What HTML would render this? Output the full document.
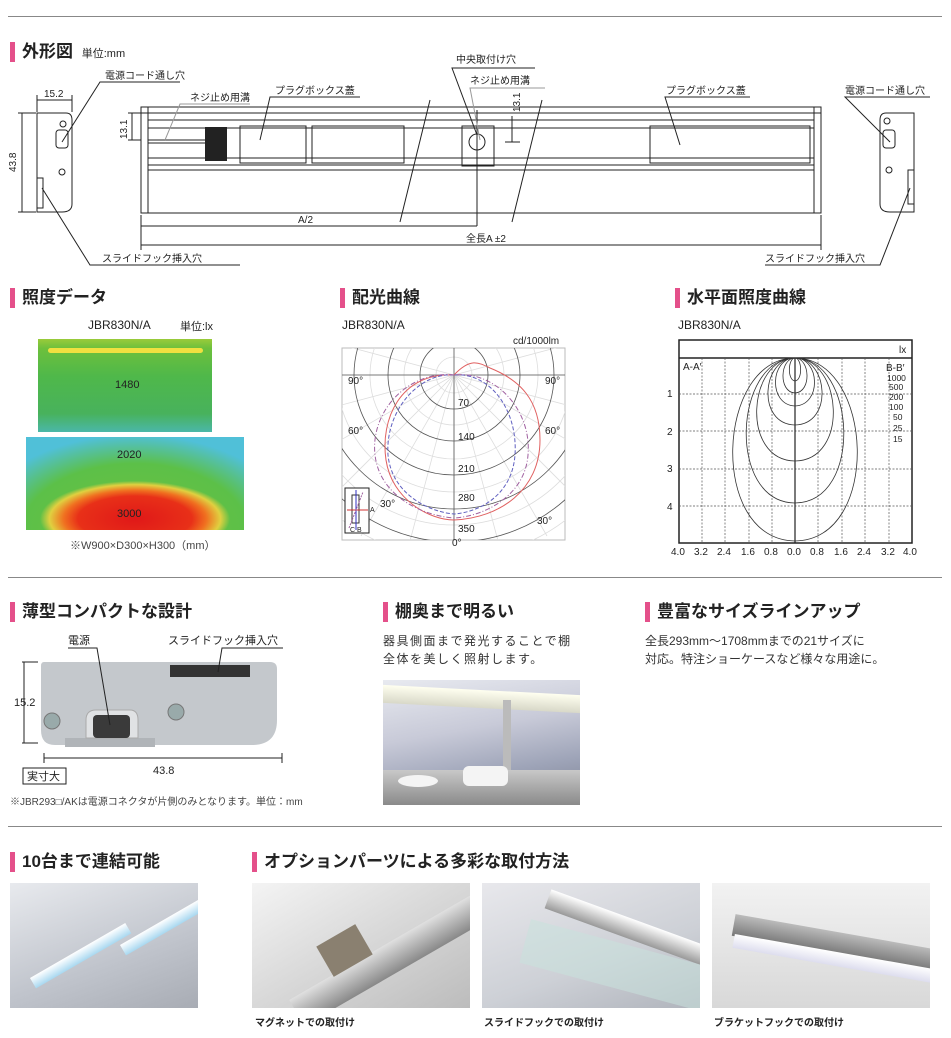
<!DOCTYPE html>
<html><head><meta charset="utf-8">
<style>
*{margin:0;padding:0;box-sizing:border-box}
body{width:951px;height:1038px;background:#fff;position:relative;overflow:hidden;font-family:"Liberation Sans","Noto Sans CJK JP",sans-serif;color:#222}
.a{position:absolute;white-space:nowrap}
.h{font-size:17px;font-weight:bold;padding-left:12px;line-height:20px}
.h:before{content:"";position:absolute;left:0;top:0;width:5px;height:20px;background:#e4508a}
.s{font-size:11px}
.hr{position:absolute;left:8px;width:934px;height:1px;background:#888}
.ph{position:absolute;overflow:hidden}
</style></head><body>
<div class="hr" style="top:16px"></div>
<div class="hr" style="top:577px"></div>
<div class="hr" style="top:826px"></div>

<!-- Section 1 -->
<div class="a h" style="left:10px;top:42px">外形図 <span style="font-size:11px;font-weight:normal;margin-left:4px">単位:mm</span></div>
<svg class="a" style="left:0;top:0" width="951" height="280" font-family="Liberation Sans,Noto Sans CJK JP,sans-serif" font-size="10" fill="#222">
<g stroke="#222" stroke-width="1" fill="none">
<path d="M37 113 H66 Q72 113 72 120 V204 Q72 212 62 212 H37 Z"/>
<rect x="56" y="130" width="12" height="18" rx="3"/>
<rect x="37" y="178" width="6" height="30"/>
<circle cx="63" cy="124" r="3"/><circle cx="62" cy="172" r="3"/>
<line x1="37" y1="100" x2="72" y2="100"/><line x1="37" y1="95" x2="37" y2="112"/><line x1="72" y1="95" x2="72" y2="112"/>
<line x1="22" y1="113" x2="22" y2="212"/><line x1="18" y1="113" x2="36" y2="113"/><line x1="18" y1="212" x2="36" y2="212"/>
<polyline points="62,142 100,82 180,82"/>
<polyline points="42,188 90,265 240,265"/>
<path d="M914 113 H886 Q880 113 880 120 V204 Q880 212 890 212 H914 Z"/>
<rect x="883" y="130" width="12" height="18" rx="3"/>
<rect x="908" y="170" width="6" height="34"/>
<circle cx="887" cy="121" r="3"/><circle cx="889" cy="170" r="3"/>
<polyline points="890,142 845,97 930,97"/>
<polyline points="910,188 880,265 765,265"/>
<rect x="141" y="107" width="680" height="106"/>
<line x1="141" y1="113" x2="821" y2="113"/>
<line x1="148" y1="107" x2="148" y2="213"/><line x1="814" y1="107" x2="814" y2="213"/>
<line x1="148" y1="120" x2="814" y2="120"/>
<line x1="148" y1="128" x2="814" y2="128"/>
<line x1="148" y1="158" x2="814" y2="158"/>
<line x1="148" y1="165" x2="814" y2="165"/>
<line x1="148" y1="170" x2="814" y2="170"/>
<line x1="148" y1="140" x2="205" y2="140"/><line x1="148" y1="143" x2="205" y2="143"/>
<rect x="240" y="126" width="66" height="37"/>
<rect x="312" y="126" width="92" height="37"/>
<rect x="462" y="126" width="32" height="40"/>
<rect x="650" y="126" width="160" height="37"/>
<circle cx="477" cy="142" r="8"/>
<line x1="477" y1="110" x2="477" y2="226"/>
<line x1="400" y1="222" x2="430" y2="100"/><line x1="512" y1="222" x2="542" y2="100"/>
<line x1="141" y1="226" x2="477" y2="226"/>
<line x1="141" y1="245" x2="821" y2="245"/>
<line x1="141" y1="215" x2="141" y2="250"/><line x1="821" y1="215" x2="821" y2="250"/>
<line x1="512" y1="116" x2="512" y2="142"/><line x1="505" y1="142" x2="520" y2="142"/>
<line x1="132" y1="113" x2="132" y2="140"/><line x1="128" y1="113" x2="141" y2="113"/><line x1="128" y1="140" x2="141" y2="140"/>
<polyline points="165,140 180,104 250,104" stroke="#999"/>
<polyline points="260,140 270,97 360,97"/>
<polyline points="477,135 452,68 535,68"/>
<polyline points="480,140 470,88 545,88" stroke="#999"/>
<polyline points="680,145 665,97 750,97"/>
</g>
<rect x="205" y="127" width="22" height="34" fill="#222"/>
<text x="44" y="97">15.2</text>
<text transform="translate(16,172) rotate(-90)">43.8</text>
<text transform="translate(127,139) rotate(-90)">13.1</text>
<text transform="translate(520,112) rotate(-90)">13.1</text>
<text x="105" y="79">電源コード通し穴</text>
<text x="190" y="101">ネジ止め用溝</text>
<text x="275" y="94">プラグボックス蓋</text>
<text x="456" y="63">中央取付け穴</text>
<text x="470" y="84">ネジ止め用溝</text>
<text x="666" y="94">プラグボックス蓋</text>
<text x="845" y="94">電源コード通し穴</text>
<text x="298" y="223">A/2</text>
<text x="466" y="242">全長A ±2</text>
<text x="102" y="262">スライドフック挿入穴</text>
<text x="765" y="262">スライドフック挿入穴</text>
</svg>

<!-- Section 2 -->
<div class="a h" style="left:10px;top:288px">照度データ</div>
<div class="a s" style="left:88px;top:318px;font-size:12px">JBR830N/A</div>
<div class="a s" style="left:180px;top:318px">単位:lx</div>
<div class="a" style="left:38px;top:339px;width:174px;height:93px;background:linear-gradient(180deg,#9acb3a 0%,#6dc03c 10%,#4fb84a 40%,#48b25c 80%,#4ab7a8 100%)"></div>
<div class="a" style="left:48px;top:348px;width:155px;height:5px;background:#f0e040;border-radius:3px"></div>
<div class="a s" style="left:115px;top:379px">1480</div>
<div class="a" style="left:26px;top:437px;width:218px;height:93px;background:radial-gradient(ellipse 95px 38px at 50% 88%,#e01818 0%,#e83018 60%,#f07020 75%,#e0d040 90%,rgba(120,200,60,0) 100%),radial-gradient(ellipse 160px 95px at 50% 100%,#70c040 0%,#5cc048 70%,#50c0d8 100%)"></div>
<div class="a s" style="left:117px;top:449px">2020</div>
<div class="a s" style="left:117px;top:508px">3000</div>
<div class="a s" style="left:70px;top:537px;color:#444">※W900×D300×H300（mm）</div>

<div class="a h" style="left:340px;top:288px">配光曲線</div>
<div class="a s" style="left:342px;top:318px;font-size:12px">JBR830N/A</div>
<div class="a s" style="left:513px;top:336px;font-size:10px">cd/1000lm</div>
<svg class="a" style="left:0;top:0" width="951" height="560" font-family="Liberation Sans,sans-serif" font-size="10" fill="#222">
<defs><clipPath id="pc"><rect x="342" y="348" width="223" height="192"/></clipPath></defs>
<rect x="342" y="348" width="223" height="192" fill="none" stroke="#bbb"/>
<g clip-path="url(#pc)" fill="none">
<g stroke="#ddd" stroke-width="0.8">
<circle cx="454" cy="375" r="18"/><circle cx="454" cy="375" r="50"/><circle cx="454" cy="375" r="84"/><circle cx="454" cy="375" r="117"/><circle cx="454" cy="375" r="150"/><circle cx="454" cy="375" r="183"/>
<path d="M454 375 L454 560 M454 375 L406 556 M454 375 L502 556 M454 375 L361 536 M454 375 L547 536 M454 375 L322 507 M454 375 L586 507 M454 375 L292 468 M454 375 L616 468 M454 375 L274 423 M454 375 L634 423 M454 375 L268 375 M454 375 L640 375 M454 375 L274 327 M454 375 L634 327"/>
</g>
<g stroke="#555" stroke-width="0.8">
<circle cx="454" cy="375" r="34"/><circle cx="454" cy="375" r="66"/><circle cx="454" cy="375" r="100"/><circle cx="454" cy="375" r="134"/><circle cx="454" cy="375" r="167"/>
<line x1="342" y1="375" x2="565" y2="375"/><line x1="454" y1="348" x2="454" y2="540"/>
</g>
<path d="M454 375 C400 372 380 420 386 460 C392 500 430 520 454 520 C500 518 540 490 540 440 C540 400 520 380 490 368 C478 362 470 358 454 375" stroke="#e06060"/>
<path d="M454 375 C420 372 385 410 388 455 C392 495 430 512 454 514 C480 512 512 495 515 455 C518 410 490 372 454 375" stroke="#6060c0" stroke-dasharray="4 2"/>
<path d="M454 375 C410 370 370 410 375 455 C380 498 425 516 454 518 C486 516 525 495 528 455 C532 410 495 370 454 375" stroke="#a060a0" stroke-dasharray="5 2 1 2"/>
</g>
<rect x="345" y="488" width="24" height="45" fill="#fff" stroke="#222"/>
<rect x="352" y="495" width="7" height="28" fill="none" stroke="#333"/>
<line x1="347" y1="510" x2="368" y2="510" stroke="#d03030"/>
<line x1="356" y1="490" x2="356" y2="530" stroke="#3030c0"/>
<line x1="349" y1="528" x2="363" y2="492" stroke="#a060a0" stroke-dasharray="2 1"/>
<text x="370" y="512" font-size="7">A</text><text x="350" y="532" font-size="7">C</text><text x="357" y="532" font-size="7">B</text>
<text x="348" y="384">90°</text><text x="545" y="384">90°</text>
<text x="348" y="434">60°</text><text x="545" y="434">60°</text>
<text x="380" y="507">30°</text><text x="537" y="524">30°</text>
<text x="458" y="406">70</text><text x="458" y="440">140</text><text x="458" y="472">210</text><text x="458" y="501">280</text><text x="458" y="532">350</text>
<text x="452" y="546">0°</text>
</svg>

<div class="a h" style="left:675px;top:288px">水平面照度曲線</div>
<div class="a s" style="left:678px;top:318px;font-size:12px">JBR830N/A</div>
<svg class="a" style="left:0;top:0" width="951" height="560" font-family="Liberation Sans,sans-serif" font-size="10" fill="#222">
<rect x="679" y="340" width="233" height="203" fill="none" stroke="#222" stroke-width="1.5"/>
<line x1="679" y1="358" x2="912" y2="358" stroke="#222" stroke-width="1.5"/>
<g stroke="#555" stroke-dasharray="2 1.5" stroke-width="0.7">
<line x1="679" y1="394" x2="912" y2="394"/><line x1="679" y1="431" x2="912" y2="431"/><line x1="679" y1="469" x2="912" y2="469"/><line x1="679" y1="506" x2="912" y2="506"/>
<line x1="702" y1="358" x2="702" y2="543"/><line x1="725" y1="358" x2="725" y2="543"/><line x1="749" y1="358" x2="749" y2="543"/><line x1="772" y1="358" x2="772" y2="543"/><line x1="818" y1="358" x2="818" y2="543"/><line x1="842" y1="358" x2="842" y2="543"/><line x1="865" y1="358" x2="865" y2="543"/><line x1="889" y1="358" x2="889" y2="543"/>
</g>
<line x1="795" y1="358" x2="795" y2="543" stroke="#222" stroke-width="1.2"/>
<g fill="none" stroke="#333" stroke-width="0.8">
<path d="M795 358 C788 358 787 380 795 381 C803 380 802 358 795 358"/>
<path d="M795 358 C780 358 778 392 795 393 C812 392 810 358 795 358"/>
<path d="M795 358 C770 358 768 405 795 406 C822 405 820 358 795 358"/>
<path d="M795 358 C762 358 756 424 795 425 C834 424 828 358 795 358"/>
<path d="M795 358 C748 358 740 460 795 461 C850 460 842 358 795 358"/>
<path d="M795 358 C734 358 726 502 795 503 C864 502 856 358 795 358"/>
<path d="M795 358 C716 358 708 540 795 541 C882 540 874 358 795 358"/>
</g>
<text x="899" y="353">lx</text>
<text x="683" y="370">A-A′</text><text x="886" y="371">B-B′</text>
<g font-size="8.5"><text x="887" y="381">1000</text><text x="889" y="390">500</text><text x="889" y="400">200</text><text x="889" y="410">100</text><text x="893" y="420">50</text><text x="893" y="431">25</text><text x="893" y="442">15</text></g>
<text x="667" y="397">1</text><text x="667" y="435">2</text><text x="667" y="472">3</text><text x="667" y="510">4</text>
<g font-size="10"><text x="671" y="555">4.0</text><text x="694" y="555">3.2</text><text x="717" y="555">2.4</text><text x="741" y="555">1.6</text><text x="764" y="555">0.8</text><text x="787" y="555">0.0</text><text x="810" y="555">0.8</text><text x="834" y="555">1.6</text><text x="857" y="555">2.4</text><text x="881" y="555">3.2</text><text x="903" y="555">4.0</text></g>
</svg>

<!-- Section 3 -->
<div class="a h" style="left:10px;top:602px">薄型コンパクトな設計</div>
<svg class="a" style="left:0;top:625px" width="330" height="190" font-family="Liberation Sans,Noto Sans CJK JP,sans-serif" font-size="11" fill="#222">
<path d="M44 37 H270 Q277 37 277 44 V95 Q277 120 252 120 H55 Q41 120 41 105 V41 Q41 37 44 37Z" fill="#c4c8cc"/>
<rect x="65" y="113" width="90" height="9" fill="#b0b4b8"/>
<path d="M86 113 V95 Q86 85 96 85 H130 Q138 85 138 95 V113Z" fill="#e0e2e4" stroke="#aaa"/>
<rect x="93" y="90" width="37" height="23" rx="4" fill="#3a3a3a"/>
<rect x="170" y="40" width="80" height="12" fill="#333"/>
<circle cx="52" cy="96" r="8" fill="#9aa" stroke="#777"/>
<circle cx="176" cy="87" r="8" fill="#9aa" stroke="#777"/>
<g stroke="#222" fill="none"><polyline points="68,23 97,23 110,100"/><polyline points="218,47 222,23 283,23"/>
<line x1="24" y1="37" x2="24" y2="118"/><line x1="22" y1="37" x2="38" y2="37"/><line x1="22" y1="118" x2="38" y2="118"/>
<line x1="44" y1="133" x2="282" y2="133"/><line x1="44" y1="128" x2="44" y2="138"/><line x1="282" y1="128" x2="282" y2="138"/></g>
<text x="68" y="19">電源</text><text x="168" y="19">スライドフック挿入穴</text>
<text x="14" y="81">15.2</text><text x="153" y="149">43.8</text>
<rect x="23" y="143" width="43" height="16" fill="none" stroke="#222"/><text x="27" y="155">実寸大</text>
<text x="10" y="180" font-size="10" fill="#444">※JBR293□/AKは電源コネクタが片側のみとなります。単位：mm</text>
</svg>

<div class="a h" style="left:383px;top:602px">棚奥まで明るい</div>
<div class="a" style="left:383px;top:632px;font-size:12px;line-height:18px;letter-spacing:1.5px;color:#333">器具側面まで発光することで棚<br>全体を美しく照射します。</div>
<div class="ph" style="left:383px;top:680px;width:197px;height:125px;background:linear-gradient(170deg,#e8eaf0 0%,#c8cad8 40%,#9ea4b8 70%,#7a7f90 100%)">
<div class="a" style="left:0;top:10px;width:197px;height:18px;background:linear-gradient(180deg,#fffff0,#d8d8c8);transform:skewY(3deg)"></div>
<div class="a" style="left:120px;top:20px;width:8px;height:100px;background:#bbb"></div>
<div class="a" style="left:0;top:90px;width:197px;height:35px;background:linear-gradient(180deg,#c8c8c8,#8a8a8a)"></div>
<div class="a" style="left:15px;top:95px;width:40px;height:12px;background:#f4f4f4;border-radius:50%"></div>
<div class="a" style="left:80px;top:86px;width:45px;height:20px;background:#f4f4f4;border-radius:6px"></div>
</div>

<div class="a h" style="left:645px;top:602px">豊富なサイズラインアップ</div>
<div class="a" style="left:645px;top:632px;font-size:12px;line-height:18px;color:#333">全長293mm～1708mmまでの21サイズに<br>対応。特注ショーケースなど様々な用途に。</div>

<!-- Section 4 -->
<div class="a h" style="left:10px;top:852px">10台まで連結可能</div>
<div class="ph" style="left:10px;top:883px;width:188px;height:125px;background:linear-gradient(160deg,#e8eaee,#c0c4cc 60%,#a8acb4)">
<div class="a" style="left:20px;top:95px;width:110px;height:12px;background:linear-gradient(180deg,#fff,#a8d8f0);transform:rotate(-30deg);transform-origin:0 0"></div>
<div class="a" style="left:110px;top:62px;width:110px;height:12px;background:linear-gradient(180deg,#fff,#a8d8f0);transform:rotate(-30deg);transform-origin:0 0"></div>
</div>
<div class="a h" style="left:252px;top:852px">オプションパーツによる多彩な取付方法</div>
<div class="ph" style="left:252px;top:883px;width:218px;height:125px;background:linear-gradient(150deg,#f4f4f4,#d8d8d8 50%,#bcbcbc)">
<div class="a" style="left:30px;top:60px;width:220px;height:30px;background:linear-gradient(180deg,#e0e0e0,#888);transform:rotate(-30deg)"></div>
<div class="a" style="left:70px;top:50px;width:45px;height:35px;background:#8a8070;transform:rotate(-30deg)"></div>
</div>
<div class="ph" style="left:482px;top:883px;width:218px;height:125px;background:linear-gradient(160deg,#e8e8ec,#cdd0d6 60%,#b0b4bc)">
<div class="a" style="left:60px;top:40px;width:200px;height:20px;background:linear-gradient(180deg,#fff,#999);transform:rotate(20deg)"></div>
<div class="a" style="left:40px;top:60px;width:190px;height:45px;background:rgba(200,225,220,.55);transform:rotate(15deg)"></div>
</div>
<div class="ph" style="left:712px;top:883px;width:218px;height:125px;background:linear-gradient(180deg,#f2f2f2,#d8d8d8)">
<div class="a" style="left:20px;top:50px;width:220px;height:22px;background:linear-gradient(180deg,#bbb,#777);transform:rotate(10deg)"></div>
<div class="a" style="left:20px;top:70px;width:220px;height:14px;background:linear-gradient(180deg,#fff,#dde);transform:rotate(10deg)"></div>
</div>
<div class="a" style="left:255px;top:1014px;font-size:10px;font-weight:bold">マグネットでの取付け</div>
<div class="a" style="left:484px;top:1014px;font-size:10px;font-weight:bold">スライドフックでの取付け</div>
<div class="a" style="left:714px;top:1014px;font-size:10px;font-weight:bold">ブラケットフックでの取付け</div>
</body></html>
